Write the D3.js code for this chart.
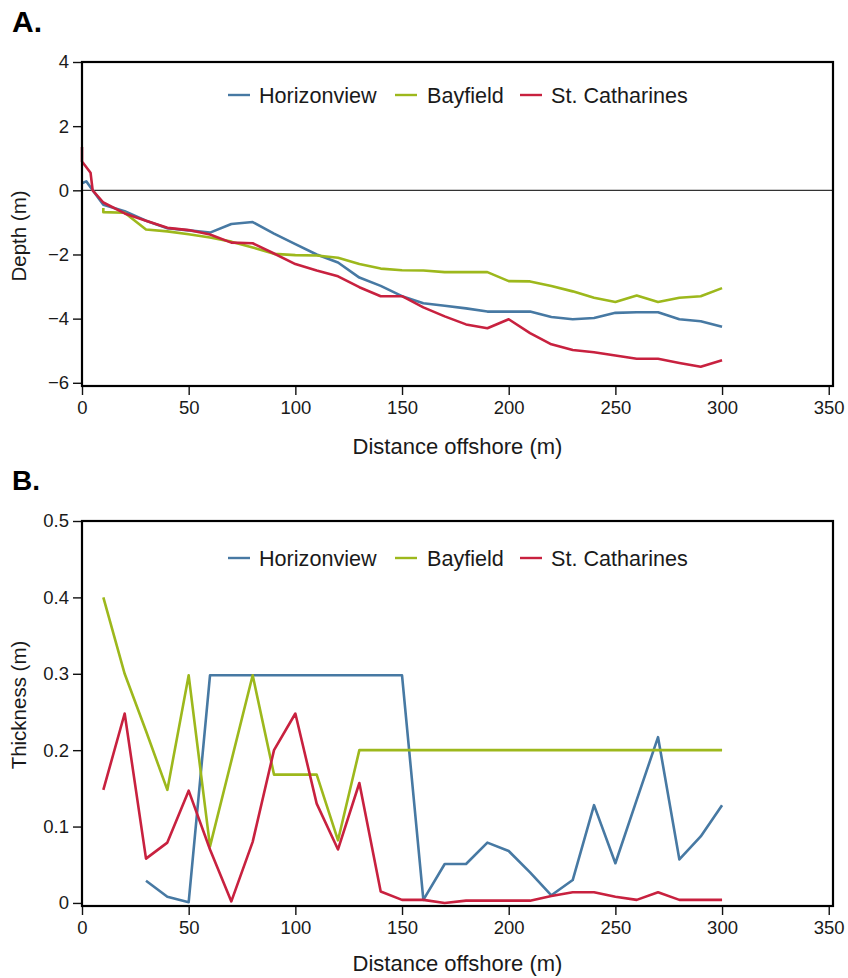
<!DOCTYPE html>
<html>
<head>
<meta charset="utf-8">
<script src="https://cdn.jsdelivr.net/npm/d3@7"></script>
<style>
  body { margin: 0; background: #fff; }
  svg { display: block; font-family: "Liberation Sans", Arial, Helvetica, sans-serif; }
</style>
</head>
<body>
<svg id="chart" width="848" height="978"></svg>
<script>
// ---------- DATA ----------
const seriesNames = ["Horizonview", "Bayfield", "St. Catharines"];
const seriesColors = ["#4779a3", "#9db81c", "#c8213f"];

// Panel A: depth profiles
const depthDistHorizonview = [0, 2, 5, 10, 20, 30, 40, 50, 60, 70, 80, 90, 100, 110, 120, 130, 140, 150, 160, 170, 180, 190, 200, 210, 220, 230, 240, 250, 260, 270, 280, 290, 300];
const depthHorizonview = [0.22, 0.28, 0, -0.45, -0.65, -0.95, -1.18, -1.25, -1.32, -1.05, -0.99, -1.35, -1.68, -2.0, -2.25, -2.72, -2.98, -3.3, -3.52, -3.6, -3.68, -3.78, -3.78, -3.78, -3.95, -4.02, -3.98, -3.82, -3.8, -3.8, -4.02, -4.08, -4.25];

const depthDistBayfield = [10, 10, 20, 30, 40, 50, 60, 70, 80, 90, 100, 110, 120, 130, 140, 150, 160, 170, 180, 190, 200, 210, 220, 230, 240, 250, 260, 270, 280, 290, 300];
const depthBayfield = [-0.55, -0.68, -0.7, -1.22, -1.28, -1.37, -1.47, -1.6, -1.78, -1.98, -2.02, -2.03, -2.1, -2.3, -2.44, -2.49, -2.5, -2.55, -2.55, -2.55, -2.83, -2.84, -2.98, -3.15, -3.35, -3.48, -3.28, -3.48, -3.35, -3.3, -3.05];

const depthDistStCatharines = [0, 0, 4, 5, 10, 20, 30, 40, 50, 60, 70, 80, 90, 100, 110, 120, 130, 140, 150, 160, 170, 180, 190, 200, 210, 220, 230, 240, 250, 260, 270, 280, 290, 300];
const depthStCatharines = [1.35, 0.9, 0.55, 0, -0.38, -0.72, -0.95, -1.17, -1.24, -1.38, -1.63, -1.65, -1.97, -2.3, -2.5, -2.68, -3.02, -3.3, -3.3, -3.65, -3.93, -4.18, -4.3, -4.02, -4.45, -4.8, -4.98, -5.05, -5.15, -5.25, -5.25, -5.38, -5.5, -5.3];

// Panel B: thickness
const thickDistHorizonview = [30, 40, 50, 60, 70, 80, 90, 100, 110, 120, 130, 140, 150, 160, 170, 180, 190, 200, 210, 220, 230, 240, 250, 260, 270, 280, 290, 300];
const thickHorizonview = [0.029, 0.008, 0.001, 0.298, 0.298, 0.298, 0.298, 0.298, 0.298, 0.298, 0.298, 0.298, 0.298, 0.004, 0.051, 0.051, 0.079, 0.068, 0.04, 0.01, 0.03, 0.128, 0.052, 0.135, 0.217, 0.057, 0.087, 0.128];

const thickDistBayfield = [10, 20, 30, 40, 50, 60, 70, 80, 90, 100, 110, 120, 130, 140, 150, 160, 170, 180, 190, 200, 210, 220, 230, 240, 250, 260, 270, 280, 290, 300];
const thickBayfield = [0.4, 0.3, 0.225, 0.148, 0.298, 0.074, 0.186, 0.298, 0.168, 0.168, 0.168, 0.082, 0.2, 0.2, 0.2, 0.2, 0.2, 0.2, 0.2, 0.2, 0.2, 0.2, 0.2, 0.2, 0.2, 0.2, 0.2, 0.2, 0.2, 0.2];

const thickDistStCatharines = [10, 20, 30, 40, 50, 60, 70, 80, 90, 100, 110, 120, 130, 140, 150, 160, 170, 180, 190, 200, 210, 220, 230, 240, 250, 260, 270, 280, 290, 300];
const thickStCatharines = [0.148, 0.248, 0.058, 0.079, 0.147, 0.07, 0.002, 0.08, 0.2, 0.248, 0.13, 0.07, 0.157, 0.015, 0.004, 0.004, 0.0, 0.003, 0.003, 0.003, 0.003, 0.009, 0.014, 0.014, 0.008, 0.004, 0.014, 0.004, 0.004, 0.004];

const xTicks = [0, 50, 100, 150, 200, 250, 300, 350];
const depthTicks = [-6, -4, -2, 0, 2, 4];
const thickTicks = [0, 0.1, 0.2, 0.3, 0.4, 0.5];

// ---------- DRAWING ----------
const svg = d3.select("#chart");
const zip = (xs, ys) => xs.map((x, i) => [x, ys[i]]);

function panel(opts) {
  const { top, bottom, left, right, yDomain, yTicks, yFmt, series, yTitle, yTitleY, xTitleY, label, labelY, labelSize, legendY, zeroLine } = opts;
  const x = d3.scaleLinear().domain([0, 352]).range([left, right]);
  const y = d3.scaleLinear().domain(yDomain).range([bottom, top]);
  const g = svg.append("g");

  g.append("text").attr("x", 12).attr("y", labelY)
    .attr("font-size", labelSize).attr("font-weight", "bold").attr("fill", "#000").text(label);

  if (zeroLine) {
    g.append("line").attr("x1", left).attr("x2", right)
      .attr("y1", y(0)).attr("y2", y(0))
      .attr("stroke", "#333").attr("stroke-width", 1.2);
  }

  const line = d3.line().x(d => x(d[0])).y(d => y(d[1]));
  series.forEach((s, i) => {
    g.append("path").datum(s).attr("d", line)
      .attr("fill", "none").attr("stroke", seriesColors[i])
      .attr("stroke-width", 2.6).attr("stroke-linejoin", "round");
  });

  const xa = g.append("g").attr("transform", `translate(0,${bottom})`)
    .call(d3.axisBottom(x).tickValues(xTicks).tickSize(9).tickPadding(6).tickSizeOuter(0));
  const ya = g.append("g").attr("transform", `translate(${left},0)`)
    .call(d3.axisLeft(y).tickValues(yTicks).tickFormat(yFmt).tickSize(9).tickPadding(4).tickSizeOuter(0));
  [xa, ya].forEach(a => {
    a.select(".domain").remove();
    a.selectAll(".tick line").attr("stroke", "#111").attr("stroke-width", 1.4);
    a.selectAll(".tick text").attr("font-size", 18.5).attr("fill", "#1a1a1a")
      .attr("font-family", '"Liberation Sans", Arial, sans-serif');
  });

  g.append("rect").attr("x", left).attr("y", top)
    .attr("width", right - left).attr("height", bottom - top)
    .attr("fill", "none").attr("stroke", "#000").attr("stroke-width", 2.2);

  g.append("text").attr("x", (left + right) / 2).attr("y", xTitleY)
    .attr("text-anchor", "middle").attr("font-size", 22).attr("fill", "#1a1a1a")
    .text("Distance offshore (m)");
  g.append("text").attr("transform", `translate(26,${yTitleY}) rotate(-90)`)
    .attr("text-anchor", "middle").attr("font-size", 20.5).attr("fill", "#1a1a1a")
    .text(yTitle);

  const legX = [228, 395, 520];
  const legTX = [259, 427, 551];
  seriesNames.forEach((n, i) => {
    g.append("line").attr("x1", legX[i]).attr("x2", legX[i] + 22)
      .attr("y1", legendY).attr("y2", legendY)
      .attr("stroke", seriesColors[i]).attr("stroke-width", 2.4);
    g.append("text").attr("x", legTX[i]).attr("y", legendY + 7.5)
      .attr("font-size", 21.6).attr("fill", "#1a1a1a").text(n);
  });
}

panel({
  top: 62, bottom: 386, left: 82, right: 833,
  yDomain: [-6.1, 4], yTicks: depthTicks, yFmt: d3.format("d"),
  series: [zip(depthDistHorizonview, depthHorizonview), zip(depthDistBayfield, depthBayfield), zip(depthDistStCatharines, depthStCatharines)],
  yTitle: "Depth (m)", yTitleY: 236, xTitleY: 454,
  label: "A.", labelY: 32, labelSize: 30, legendY: 95, zeroLine: true
});

panel({
  top: 521, bottom: 906, left: 82, right: 833,
  yDomain: [-0.004, 0.5], yTicks: thickTicks, yFmt: d => d === 0 ? "0" : d3.format(".1f")(d),
  series: [zip(thickDistHorizonview, thickHorizonview), zip(thickDistBayfield, thickBayfield), zip(thickDistStCatharines, thickStCatharines)],
  yTitle: "Thickness (m)", yTitleY: 705, xTitleY: 971,
  label: "B.", labelY: 490, labelSize: 28, legendY: 558, zeroLine: false
});
</script>
</body>
</html>
